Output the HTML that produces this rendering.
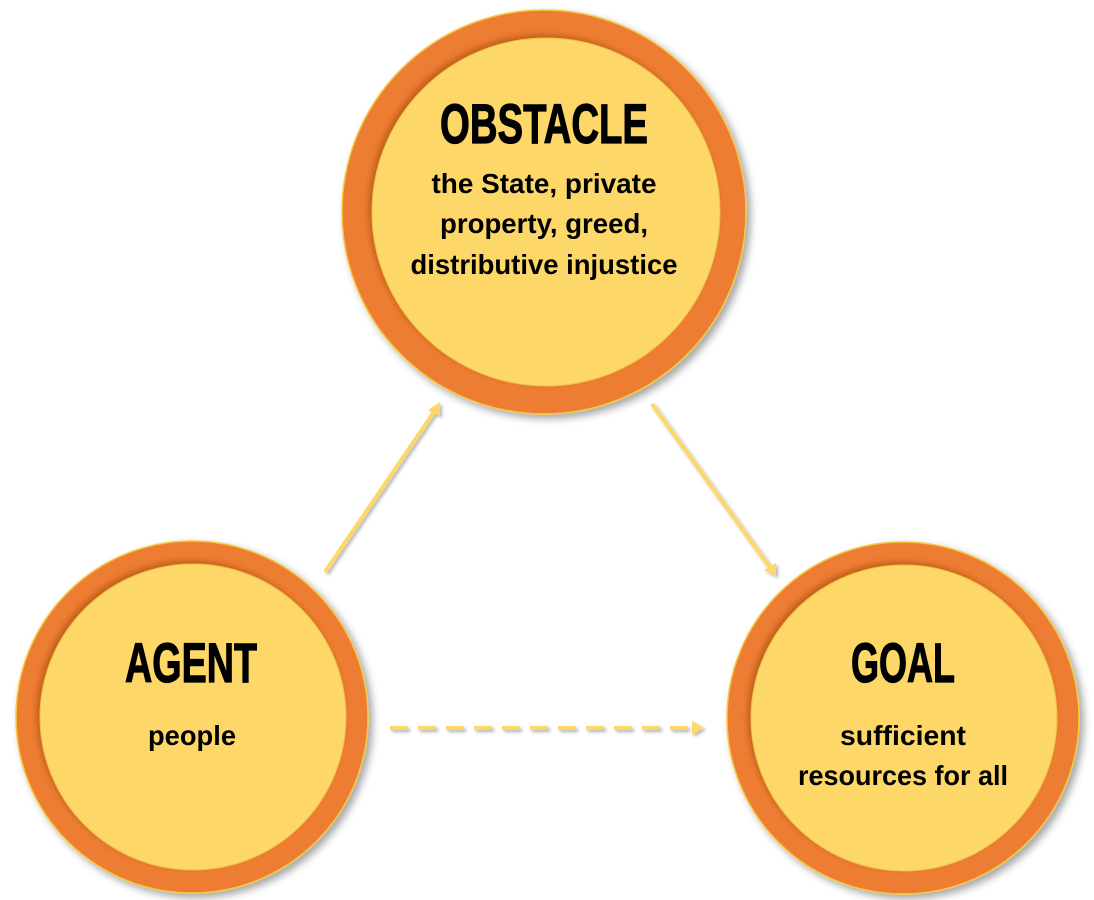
<!DOCTYPE html>
<html><head><meta charset="utf-8"><style>
html,body{margin:0;padding:0;background:#fff;}
svg{display:block}
.t{font-family:"Liberation Sans Narrow","Liberation Sans",sans-serif;font-weight:bold;fill:#000;text-anchor:middle}
.h{stroke:#000;stroke-width:1.2}
</style></head><body>
<svg width="1094" height="900" viewBox="0 0 1094 900" xmlns="http://www.w3.org/2000/svg">
<defs>
<filter id="sh" x="-20%" y="-20%" width="140%" height="140%">
<feDropShadow dx="4" dy="4" stdDeviation="4" flood-color="#000" flood-opacity="0.35"/>
</filter>
<filter id="ish" x="-20%" y="-20%" width="140%" height="140%">
<feDropShadow dx="-3" dy="-3" stdDeviation="3" flood-color="#8a3a00" flood-opacity="0.45"/>
</filter>
<filter id="ash"><feDropShadow dx="2" dy="2" stdDeviation="1.5" flood-color="#000" flood-opacity="0.3"/></filter>
</defs>
<circle cx="544" cy="212" r="202" fill="#ed7d31" stroke="#f5c842" stroke-width="1.5" filter="url(#sh)"/>
<circle cx="546" cy="212" r="174" fill="#fdd868" stroke="#f0c040" stroke-width="1" filter="url(#ish)"/>
<circle cx="192" cy="717" r="176" fill="#ed7d31" stroke="#f5c842" stroke-width="1.5" filter="url(#sh)"/>
<circle cx="193" cy="717" r="153" fill="#fdd868" stroke="#f0c040" stroke-width="1" filter="url(#ish)"/>
<circle cx="903" cy="718" r="176" fill="#ed7d31" stroke="#f5c842" stroke-width="1.5" filter="url(#sh)"/>
<circle cx="904" cy="718" r="153" fill="#fdd868" stroke="#f0c040" stroke-width="1" filter="url(#ish)"/>
<g filter="url(#ash)" stroke="#fdd868" fill="#fdd868">
<line x1="325" y1="572" x2="436" y2="409" stroke-width="4"/>
<polygon points="440,402 428,410 440,416" stroke="none"/>
<line x1="652" y1="404" x2="771" y2="569" stroke-width="4"/>
<polygon points="776,576 764,570 776,563" stroke="none"/>
<line x1="390" y1="728" x2="694" y2="728" stroke-width="4" stroke-dasharray="18,10"/>
<polygon points="704,728 692,721 692,735" stroke="none"/>
</g>
<text class="t h" x="544" y="143" font-size="56" textLength="208" lengthAdjust="spacingAndGlyphs">OBSTACLE</text>
<text class="t" x="544" y="193" font-size="28" textLength="225" lengthAdjust="spacingAndGlyphs">the State, private</text>
<text class="t" x="544" y="233" font-size="28" textLength="208" lengthAdjust="spacingAndGlyphs">property, greed,</text>
<text class="t" x="544" y="274" font-size="28" textLength="267" lengthAdjust="spacingAndGlyphs">distributive injustice</text>
<text class="t h" x="191" y="682" font-size="56" textLength="132" lengthAdjust="spacingAndGlyphs">AGENT</text>
<text class="t" x="192" y="745" font-size="28" textLength="88" lengthAdjust="spacingAndGlyphs">people</text>
<text class="t h" x="903" y="682" font-size="56" textLength="104" lengthAdjust="spacingAndGlyphs">GOAL</text>
<text class="t" x="903" y="745" font-size="28" textLength="126" lengthAdjust="spacingAndGlyphs">sufficient</text>
<text class="t" x="903" y="785" font-size="28" textLength="210" lengthAdjust="spacingAndGlyphs">resources for all</text>
</svg>
</body></html>
